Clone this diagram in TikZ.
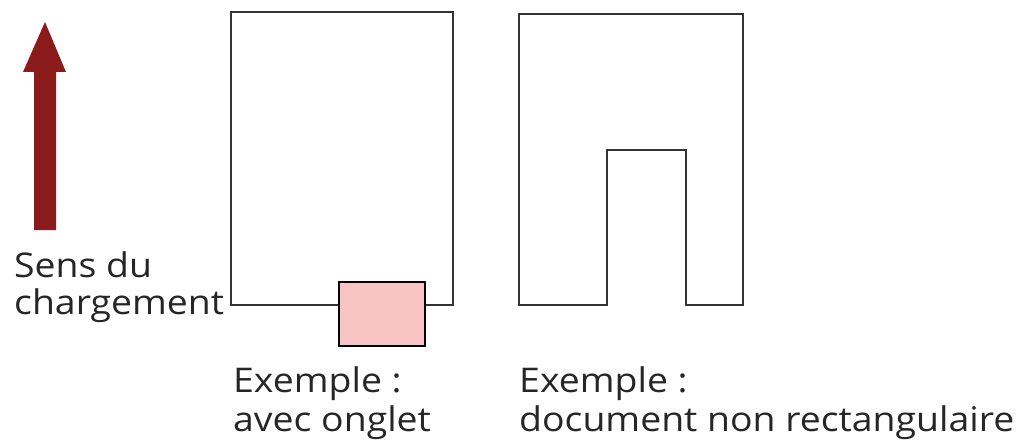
\documentclass[tikz,border=0pt]{standalone}
\usepackage{fontspec}
\setmainfont{Open Sans}[FakeStretch=1.1]
\definecolor{arrowred}{HTML}{8B1A1A}
\definecolor{tabpink}{HTML}{F8C4C4}
\begin{document}
\begin{tikzpicture}[x=1pt,y=-1pt,
  outline/.style={draw=black!80,line width=2.4pt,line join=miter},
  lbl/.style={font=\fontsize{34}{40}\selectfont,text=black!85,anchor=base west,inner sep=0pt}]
\useasboundingbox (0,0) rectangle (1019,441);
% arrow
\fill[arrowred] (34,230) -- (56,230) -- (56,72) -- (66,72) -- (45,22) -- (23,72) -- (34,72) -- cycle;
\node[lbl] (l1) at (14,277) {Sens du};
\node[lbl] (l2) at (14,314) {chargement};
% box 1
\draw[outline] (231,305) -- (231,12) -- (453,12) -- (453,305) -- cycle;
\node[draw=black,line width=1.8pt,fill=tabpink,minimum width=86pt,minimum height=64pt,inner sep=0pt] (tab) at (382,314) {};
\node[lbl] (e1) at (233,392) {Exemple :};
\node[lbl] (e2) at (233,431) {avec onglet};
% box 2
\draw[outline] (519,14) -- (743,14) -- (743,305) -- (686,305) -- (686,150) -- (607,150) -- (607,305) -- (519,305) -- cycle;
\node[lbl] (f1) at (519,392) {Exemple :};
\node[lbl] (f2) at (519,431) {document non rectangulaire};
\end{tikzpicture}
\end{document}
